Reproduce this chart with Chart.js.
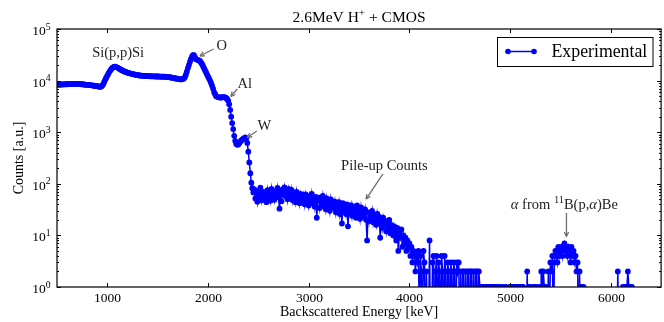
<!DOCTYPE html>
<html>
<head>
<meta charset="utf-8">
<script src="https://cdn.jsdelivr.net/npm/chart.js@4.4.0/dist/chart.umd.min.js"></script>
<style>
  html, body { margin: 0; padding: 0; background: #fff; }
</style>
</head>
<body>
<canvas id="spec" width="664" height="322"></canvas>
<script>
// channel calibration of the spectrum
const energyStart = 500, energyStep = 10;

// Si/O/Al/W backscattering edges, 500 - 2450 keV
const countsRBS = [
  8300,8350,8350,8400,8400,8400,8450,8450,8500,8500,
  8500,8550,8550,8600,8600,8600,8600,8650,8600,8600,
  8600,8600,8550,8550,8500,8500,8450,8400,8350,8300,
  8300,8250,8200,8150,8100,8100,8000,7950,7900,7800,
  7800,7700,7600,7600,7700,8000,8600,9500,10500,11500,
  12500,13600,14800,15800,16800,17600,18300,18700,18700,18300,
  17900,17500,17000,16500,16100,15700,15300,15000,14700,14500,
  14300,14100,13900,13700,13500,13400,13300,13100,13000,12900,
  12800,12700,12600,12500,12450,12400,12350,12300,12300,12250,
  12200,12200,12150,12150,12100,12100,12100,12050,12050,12000,
  12000,12000,11950,11950,11900,11900,11900,11900,11850,11850,
  11800,11700,11600,11500,11400,11300,11200,11100,11000,10900,
  10800,10700,10600,10600,10600,10700,11000,11600,13000,15000,
  17500,20000,23000,26000,29000,31000,31000,28500,26000,25500,
  25000,24500,24000,22500,21000,19200,17400,15900,14500,13200,
  12000,11000,10000,9000,8000,7000,6000,5500,5000,4900,
  4800,4750,4700,4700,4750,4800,4800,4700,4600,4400,
  4100,3500,2700,2000,1500,1150,850,680,600,570,
  580,610,650,690,720,750,770,790,760,620,
  420,260,160,105,82,68
];

// pile-up continuum, 2460 - 4090 keV
const countsPileup = [
  78,52,66,45,72,56,84,48,63,70,
  50,66,44,75,54,62,47,80,57,68,
  49,72,58,83,55,33,70,46,78,62,
  85,58,74,50,80,64,55,76,48,66,
  58,44,70,50,62,42,64,52,46,60,
  40,62,48,55,38,58,44,64,42,52,
  36,56,22,48,54,34,50,40,58,37,
  46,32,52,38,44,30,50,36,42,34,
  45,28,40,33,44,26,38,17,42,30,
  35,26,40,15,34,28,38,24,36,27,
  33,22,38,26,31,21,35,25,30,23,
  32,20,8,28,19,27,22,30,18,25,
  21,16,26,18,23,9,20,14,22,17,
  19,12,17,14,20,11,16,13,10,15,
  12,8,14,5,11,9,13,6,10,7,
  9,5,8,6,7,4,6,3,5,4,
  2,4,3,5
];

// tail and alpha peak from 11B(p,a)Be, 4100 - 6240 keV
const countsTail = [
  0,4,2,0,5,3,0,2,0,0,
  8,0,0,3,4,0,2,4,0,3,
  2,0,4,2,0,4,2,0,3,2,
  0,3,2,0,3,2,0,3,2,3,
  0,2,0,2,2,0,2,0,2,2,
  0,2,2,0,2,0,2,2,0,2,
  1,1,0,1,1,1,0,1,1,1,
  0,1,1,1,0,1,1,0,1,1,
  1,0,0,1,0,0,1,0,0,0,
  1,1,0,1,1,0,1,1,0,1,
  1,0,1,1,0,0,0,2,0,1,
  1,0,0,1,0,1,1,0,0,1,
  0,2,1,2,1,0,1,0,2,0,
  3,2,4,0,3,5,4,3,6,4,
  5,6,4,6,7,5,6,4,6,5,
  3,6,4,5,3,4,2,3,0,2,
  0,1,0,1,0,0,0,0,0,0,
  0,0,0,0,0,0,0,0,0,0,
  0,0,0,0,0,0,0,0,0,0,
  0,0,0,0,0,0,0,2,0,0,
  0,0,1,0,1,0,1,2,1,0,
  1,1,0,0,0
];

const xTicks = [1000, 2000, 3000, 4000, 5000, 6000];
const yDecades = [0, 1, 2, 3, 4, 5];

// annotations placed in data coordinates; arrow = [from E, from counts, to E, to counts]
const notes = [
  { parts: [['Si(p,p)Si', '']], e: 1107, c: 35800 },
  { parts: [['O', '']], e: 2135, c: 49000, arrow: [2055, 41000, 1921, 30000] },
  { parts: [['Al', '']], e: 2365, c: 8980, arrow: [2291, 6870, 2227, 4920] },
  { parts: [['W', '']], e: 2560, c: 1380, arrow: [2484, 1055, 2390, 789] },
  { parts: [['Pile-up Counts', '']], e: 3752, c: 231, arrow: [3737, 155, 3570, 50.7] },
  { parts: [['α', 'i'], [' from ', ''], ['11', 's'], ['B(p,', ''], ['α', 'i'], [')Be', '']],
    e: 5539, c: 40.6, arrow: [5560, 27.2, 5560, 9.5] }
];

const counts = countsRBS.concat(countsPileup, countsTail);
// zero-count channels go below the log axis and get clipped, like the original plot
const points = counts.map((c, i) => ({ x: energyStart + i * energyStep, y: c > 0 ? c : 0.1 }));

const SERIF = '"Liberation Serif", "DejaVu Serif", serif';

function drawRich(ctx, parts, x0, baseline, size, align) {
  const fontFor = k => (k === 'i' ? 'italic ' : '') + (k === 's' ? size * 0.72 : size) + 'px ' + SERIF;
  let w = 0;
  parts.forEach(([t, k]) => { ctx.font = fontFor(k); w += ctx.measureText(t).width; });
  let x = align === 'right' ? x0 - w : (align === 'left' ? x0 : x0 - w / 2);
  ctx.textAlign = 'left';
  ctx.textBaseline = 'alphabetic';
  parts.forEach(([t, k]) => {
    ctx.font = fontFor(k);
    ctx.fillText(t, x, k === 's' ? baseline - size * 0.4 : baseline);
    x += ctx.measureText(t).width;
  });
}

function seg(ctx, x1, y1, x2, y2) {
  ctx.beginPath(); ctx.moveTo(x1, y1); ctx.lineTo(x2, y2); ctx.stroke();
}

const frame = {
  id: 'frame',
  afterDatasetsDraw(chart) {
    const { ctx, chartArea: a, scales: { x, y } } = chart;
    ctx.save();
    ctx.strokeStyle = '#000';
    ctx.fillStyle = '#000';
    ctx.lineWidth = 1.2;
    ctx.strokeRect(a.left, a.top, a.right - a.left, a.bottom - a.top);
    ctx.lineWidth = 1;

    // x ticks, inward top and bottom
    xTicks.forEach(v => {
      const px = Math.round(x.getPixelForValue(v)) + 0.5;
      seg(ctx, px, a.bottom, px, a.bottom - 4);
      seg(ctx, px, a.top, px, a.top + 4);
      ctx.font = '13.5px ' + SERIF;
      ctx.textAlign = 'center';
      ctx.textBaseline = 'alphabetic';
      ctx.fillText(String(v), px, a.bottom + 14.5);
    });

    // y ticks, log major + minor, left and right
    yDecades.forEach(d => {
      for (let m = 1; m <= 9; m++) {
        if (d === 5 && m > 1) break;
        const py = Math.round(y.getPixelForValue(m * Math.pow(10, d))) + 0.5;
        const len = m === 1 ? 4 : 2;
        seg(ctx, a.left, py, a.left + len, py);
        seg(ctx, a.right, py, a.right - len, py);
      }
      const py = y.getPixelForValue(Math.pow(10, d));
      drawRich(ctx, [['10', ''], [String(d), 's']], 50.5, py + 6, 13.5, 'right');
    });

    // legend
    ctx.fillStyle = '#fff';
    ctx.fillRect(497.5, 37.5, 155.5, 29);
    ctx.strokeStyle = '#000';
    ctx.strokeRect(497.5, 37.5, 155.5, 29);
    ctx.strokeStyle = '#0000ff';
    ctx.lineWidth = 1.5;
    seg(ctx, 508, 51.5, 534, 51.5);
    ctx.fillStyle = '#0000ff';
    [508, 534].forEach(lx => { ctx.beginPath(); ctx.arc(lx, 51.5, 2.8, 0, Math.PI * 2); ctx.fill(); });
    ctx.fillStyle = '#000';
    drawRich(ctx, [['Experimental', '']], 551.5, 57, 17.8, 'left');

    // annotations
    notes.forEach(n => {
      ctx.fillStyle = '#222';
      const tx = x.getPixelForValue(n.e), ty = y.getPixelForValue(n.c);
      drawRich(ctx, n.parts, tx, ty + 5, 14.5, 'center');
      if (n.arrow) {
        const [e1, c1, e2, c2] = n.arrow;
        const x1 = x.getPixelForValue(e1), y1 = y.getPixelForValue(c1);
        const x2 = x.getPixelForValue(e2), y2 = y.getPixelForValue(c2);
        ctx.strokeStyle = '#6e6e6e';
        ctx.lineWidth = 1.3;
        seg(ctx, x1, y1, x2, y2);
        const ang = Math.atan2(y2 - y1, x2 - x1);
        [0.45, -0.45].forEach(o => seg(ctx, x2, y2, x2 - 5 * Math.cos(ang + o), y2 - 5 * Math.sin(ang + o)));
      }
    });
    ctx.restore();
  },
  afterDraw(chart) {
    const { ctx, chartArea: a } = chart;
    const cx = (a.left + a.right) / 2;
    ctx.save();
    ctx.fillStyle = '#000';
    drawRich(ctx, [['2.6MeV H', ''], ['+', 's'], [' + CMOS', '']], cx, 22, 15.5, 'center');
    drawRich(ctx, [['Backscattered Energy [keV]', '']], cx, 316, 14, 'center');
    ctx.translate(19.5, 158);
    ctx.rotate(-Math.PI / 2);
    ctx.font = '14px ' + SERIF;
    ctx.textAlign = 'center';
    ctx.textBaseline = 'middle';
    ctx.fillText('Counts [a.u.]', 0, 0);
    ctx.restore();
  }
};

new Chart(document.getElementById('spec').getContext('2d'), {
  type: 'line',
  data: {
    datasets: [{
      label: 'Experimental',
      data: points,
      borderColor: '#0000ff',
      backgroundColor: '#0000ff',
      borderWidth: 1.5,
      pointRadius: ctx => (ctx.raw && ctx.raw.y >= 1 ? 2.9 : 0),
      pointBorderWidth: 0,
      pointHoverRadius: 0,
      tension: 0
    }]
  },
  options: {
    responsive: false,
    animation: false,
    events: [],
    layout: { padding: { left: 57, top: 29, right: -1, bottom: 35 } },
    plugins: { legend: { display: false }, tooltip: { enabled: false }, title: { display: false } },
    scales: {
      x: { type: 'linear', min: 500, max: 6500, display: false },
      y: { type: 'logarithmic', min: 1, max: 100000, display: false }
    }
  },
  plugins: [frame]
});
</script>
</body>
</html>
